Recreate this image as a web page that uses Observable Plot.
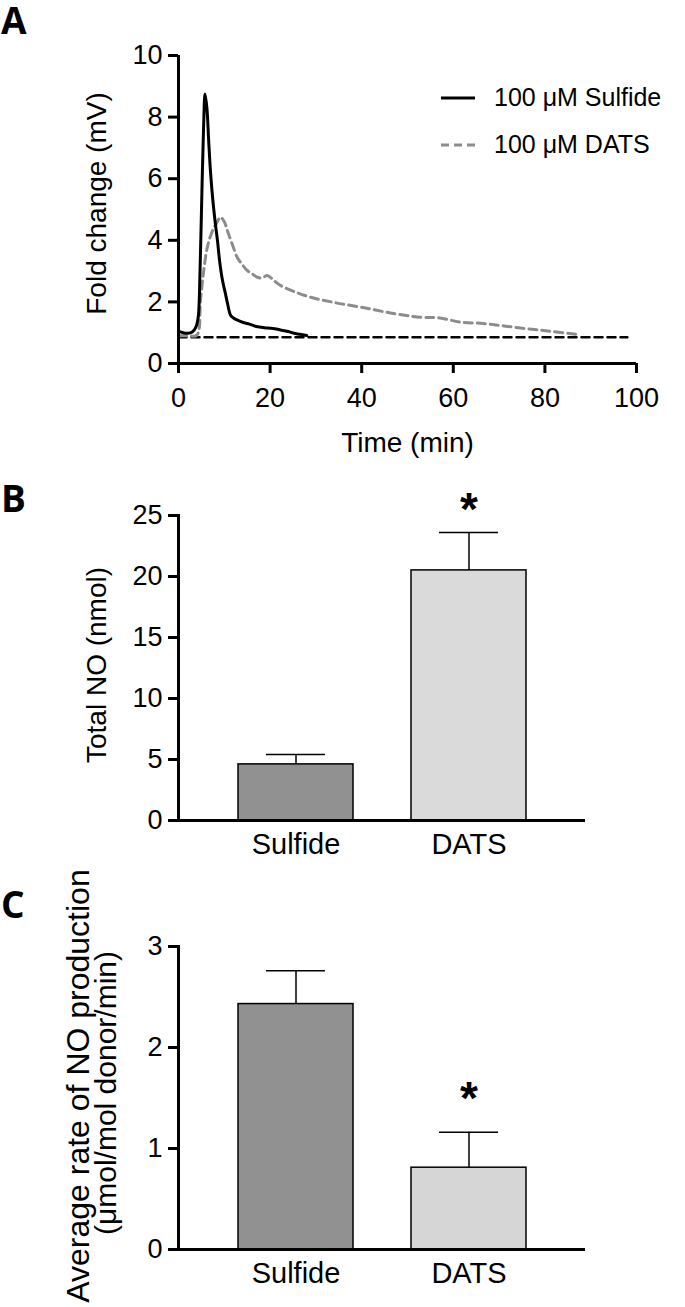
<!DOCTYPE html>
<html><head><meta charset="utf-8">
<script src="https://cdn.jsdelivr.net/npm/d3@7"></script>
<script src="https://cdn.jsdelivr.net/npm/@observablehq/plot@0.6"></script>
<style>
body{margin:0;background:#fff;}
#wrap{position:relative;width:685px;height:1307px;overflow:hidden;font-family:"Liberation Sans",Arial,sans-serif;background:#fff;}
.panel{position:absolute;left:0;}
.letter{position:absolute;font-family:"Open Sans",sans-serif;font-weight:700;font-size:37px;line-height:1;}
.leg{position:absolute;left:441px;height:0;font-size:25px;white-space:nowrap;}
.leg svg{position:absolute;left:0;top:-3px;}
.leg span{position:absolute;left:53px;top:-15px;line-height:29px;}
</style></head><body>
<div id="wrap">
  <div class="panel" id="pa" style="top:0"></div>
  <div class="panel" id="pb" style="top:470px"></div>
  <div class="panel" id="pc" style="top:880px"></div>
  <div class="letter" style="left:1px;top:1px">A</div>
  <div class="letter" style="left:1px;top:479px">B</div>
  <div class="letter" style="left:1px;top:885px">C</div>
  <div class="leg" style="top:98px"><svg width="40" height="6"><line x1="0" x2="34" y1="3" y2="3" stroke="#000" stroke-width="3"/></svg><span>100 μM Sulfide</span></div>
  <div class="leg" style="top:145px"><svg width="40" height="6"><line x1="0" x2="34" y1="3" y2="3" stroke="#8c8c8c" stroke-width="3" stroke-dasharray="8,5"/></svg><span>100 μM DATS</span></div>
</div>
<script>
// ---- Panel A data ----
const sulfideTime = [0,1,2,3,3.8,4.3,4.7,5.1,5.5,5.8,6.2,6.6,7.0,7.5,8.0,8.5,9.0,9.6,10.2,10.7,11.4,12.0,13.0,14.0,15.5,17.0,18.0,19.5,21.0,22.5,24.0,25.2,26.5,28.0];
const sulfideFold = [1.05,1.0,0.98,1.02,1.18,1.5,3.0,5.5,7.8,8.75,8.3,7.2,6.2,5.3,4.6,4.0,3.3,2.7,2.3,1.95,1.56,1.48,1.4,1.34,1.28,1.2,1.18,1.15,1.13,1.08,1.04,0.98,0.95,0.91];
const datsTime = [0,2,4,4.8,5.5,6.3,7.4,8.3,9.2,10.0,10.7,11.8,12.8,14.0,15.0,16.2,17.2,18.3,19.4,20.8,22.3,25,28.9,34,39.8,46,52.9,57,61.7,66.5,71,76,81,86.7];
const datsFold = [0.9,0.9,0.92,2.05,3.0,3.78,4.3,4.55,4.75,4.6,4.3,3.85,3.45,3.2,3.02,2.9,2.8,2.78,2.86,2.7,2.53,2.35,2.15,1.98,1.83,1.65,1.5,1.48,1.34,1.3,1.22,1.13,1.05,0.95];
const baselineTime = [0, 98];
const baselineFold = [0.85, 0.85];
const timeTicks = [0,20,40,60,80,100];
const foldTicks = [0,2,4,6,8,10];

// ---- Panels B & C data ----
const categories = ["Sulfide","DATS"];
const totalNO = [4.6, 20.5];
const totalNOErr = [0.8, 3.1];
const rateNO = [2.43, 0.81];
const rateNOErr = [0.33, 0.35];
const significant = [false, true];
const barColorsB = ["#919191","#dadada"];
const barColorsC = ["#919191","#d6d6d6"];
const totalTicks = [0,5,10,15,20,25];
const rateTicks = [0,1,2,3];

const FONT = '"Liberation Sans", Arial, sans-serif';
const baseStyle = {fontFamily: FONT, fontSize: "26px", color: "black", background: "white", overflow: "visible"};
const intFmt = d => String(d);

const sulf = sulfideTime.map((t,i)=>({t, v: sulfideFold[i]}));
const dats = datsTime.map((t,i)=>({t, v: datsFold[i]}));
const base = baselineTime.map((t,i)=>({t, v: baselineFold[i]}));

const plotA = Plot.plot({
  width: 685, height: 470,
  marginLeft: 178, marginRight: 49, marginTop: 55, marginBottom: 107,
  style: baseStyle,
  x: {domain: [0,100]},
  y: {domain: [0,10]},
  marks: [
    Plot.line(base, {x:"t", y:"v", stroke:"#000", strokeWidth:2.5, strokeDasharray:"8,5"}),
    Plot.line(dats, {x:"t", y:"v", stroke:"#8c8c8c", strokeWidth:3, strokeDasharray:"8,5", curve:"catmull-rom"}),
    Plot.line(sulf, {x:"t", y:"v", stroke:"#000", strokeWidth:3, curve:"catmull-rom"}),
    Plot.ruleX([0], {strokeWidth:3}),
    Plot.ruleY([0], {strokeWidth:3}),
    Plot.axisY({ticks: foldTicks, tickFormat: intFmt, tickSize:10, tickPadding:6, strokeWidth:3, fontSize:27, label:null}),
    Plot.axisX({ticks: timeTicks, tickFormat: intFmt, tickSize:10, tickPadding:14, strokeWidth:3, fontSize:27, label:null}),
    Plot.text(["Time (min)"], {frameAnchor:"bottom", dy:88, fontSize:28, textAnchor:"middle", lineAnchor:"bottom"}),
    Plot.text(["Fold change (mV)"], {frameAnchor:"left", dx:-73, dy:-6, rotate:-90, fontSize:28, textAnchor:"middle", lineAnchor:"bottom"})
  ]
});
document.getElementById("pa").append(plotA);

function barPanel(values, errs, colors, ticks, ymax, height, mTop, mBottom, yLabels, starDy) {
  const rows = categories.map((c,i)=>({cat:c, value:values[i], upper:values[i]+errs[i], color:colors[i], sig:significant[i]}));
  const marks = [
    Plot.barY(rows, {x:"cat", y:"value", fill:"color", stroke:"#000", strokeWidth:1.5}),
    Plot.ruleX(rows, {x:"cat", y1:"value", y2:"upper", stroke:"#000", strokeWidth:1.5}),
    Plot.tickY(rows, {x:"cat", y:"upper", stroke:"#000", strokeWidth:1.5, insetLeft:28, insetRight:28}),
    Plot.text(rows.filter(d=>d.sig), {x:"cat", y:"upper", text:()=>"*", dy:starDy, fontSize:46, fontWeight:"bold", lineAnchor:"middle"}),
    Plot.frame({anchor:"left", strokeWidth:3}),
    Plot.ruleY([0], {strokeWidth:3}),
    Plot.axisY({ticks, tickFormat: intFmt, tickSize:10, tickPadding:6, strokeWidth:3, fontSize:27, label:null}),
    Plot.axisX({tickSize:0, tickPadding:13, fontSize:29, label:null})
  ];
  yLabels.forEach(l => marks.push(Plot.text([l.text], {frameAnchor:"left", dx:l.dx, dy:l.dy, rotate:-90, fontSize:l.size, textAnchor:"middle", lineAnchor:"bottom"})));
  return Plot.plot({
    width: 685, height,
    marginLeft: 178, marginRight: 100, marginTop: mTop, marginBottom: mBottom,
    style: baseStyle,
    x: {domain: categories, paddingInner: 0.337, paddingOuter: 0.343},
    y: {domain: [0, ymax]},
    color: {type: "identity"},
    marks
  });
}

document.getElementById("pb").append(
  barPanel(totalNO, totalNOErr, barColorsB, totalTicks, 25, 410, 45, 60,
    [{text:"Total NO (nmol)", dx:-73, dy:-3, size:28}], -22)
);
document.getElementById("pc").append(
  barPanel(rateNO, rateNOErr, barColorsC, rateTicks, 3, 427, 66, 58,
    [{text:"Average rate of NO production", dx:-90, dy:-12, size:32},
     {text:"(μmol/mol donor/min)", dx:-63, dy:-5, size:30}], -33)
);
</script>
</body></html>
